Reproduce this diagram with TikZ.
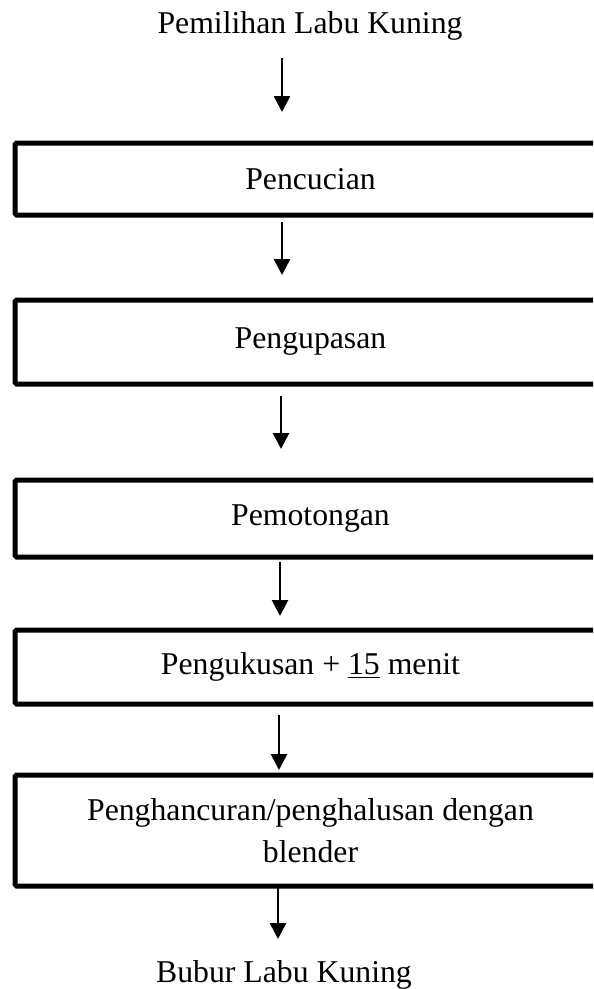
\documentclass[tikz,border=0pt]{standalone}
\usepackage{fontspec}
\setmainfont{Liberation Serif}
\usetikzlibrary{arrows.meta}
\begin{document}
\begin{tikzpicture}[x=0.75pt,y=-0.75pt,
  txt/.style={font=\fontsize{23.8}{33.75}\selectfont, align=center, inner sep=0pt},
  stepbox/.style={txt, draw, line width=3.75pt, rounded corners=1.2pt,
    minimum width=443.25pt},
  flow/.style={-{Triangle[width=12pt,length=12pt]}, line width=2pt}]

  % page area (boxes run past the right edge)
  \clip (0,0) rectangle (593,989);

  % start and end labels
  \node[txt, anchor=base] (start) at (310,33) {Pemilihan Labu Kuning};
  \node[txt, anchor=base] (finish) at (284,982) {Bubur Labu Kuning};

  % process steps
  \node[stepbox, minimum height=54pt]    (wash)  at (310.5,179)   {Pencucian};
  \node[stepbox, minimum height=63pt]    (peel)  at (310.5,342)   {Pengupasan};
  \node[stepbox, minimum height=57.75pt] (cut)   at (310.5,518.5) {Pemotongan};
  \node[stepbox, minimum height=55.5pt]  (steam) at (310.5,667)   {Pengukusan + \underline{15} menit};
  \node[stepbox, minimum height=83.25pt] (blend) at (310.5,830.5) {Penghancuran/penghalusan dengan\\[-2pt] blender};

  % arrow end points
  \coordinate (a1s) at (282,58);  \coordinate (a1e) at (282,112);
  \coordinate (a2s) at (282,222); \coordinate (a2e) at (282,275);
  \coordinate (a3s) at (281,396); \coordinate (a3e) at (281,449);
  \coordinate (a4s) at (280,562); \coordinate (a4e) at (280,616);
  \coordinate (a5s) at (279,715); \coordinate (a5e) at (279,770);
  \coordinate (a6s) at (278,888); \coordinate (a6e) at (278,939);

  \draw[flow] (a1s) -- (a1e);
  \draw[flow] (a2s) -- (a2e);
  \draw[flow] (a3s) -- (a3e);
  \draw[flow] (a4s) -- (a4e);
  \draw[flow] (a5s) -- (a5e);
  \draw[flow] (a6s) -- (a6e);
\end{tikzpicture}
\end{document}
